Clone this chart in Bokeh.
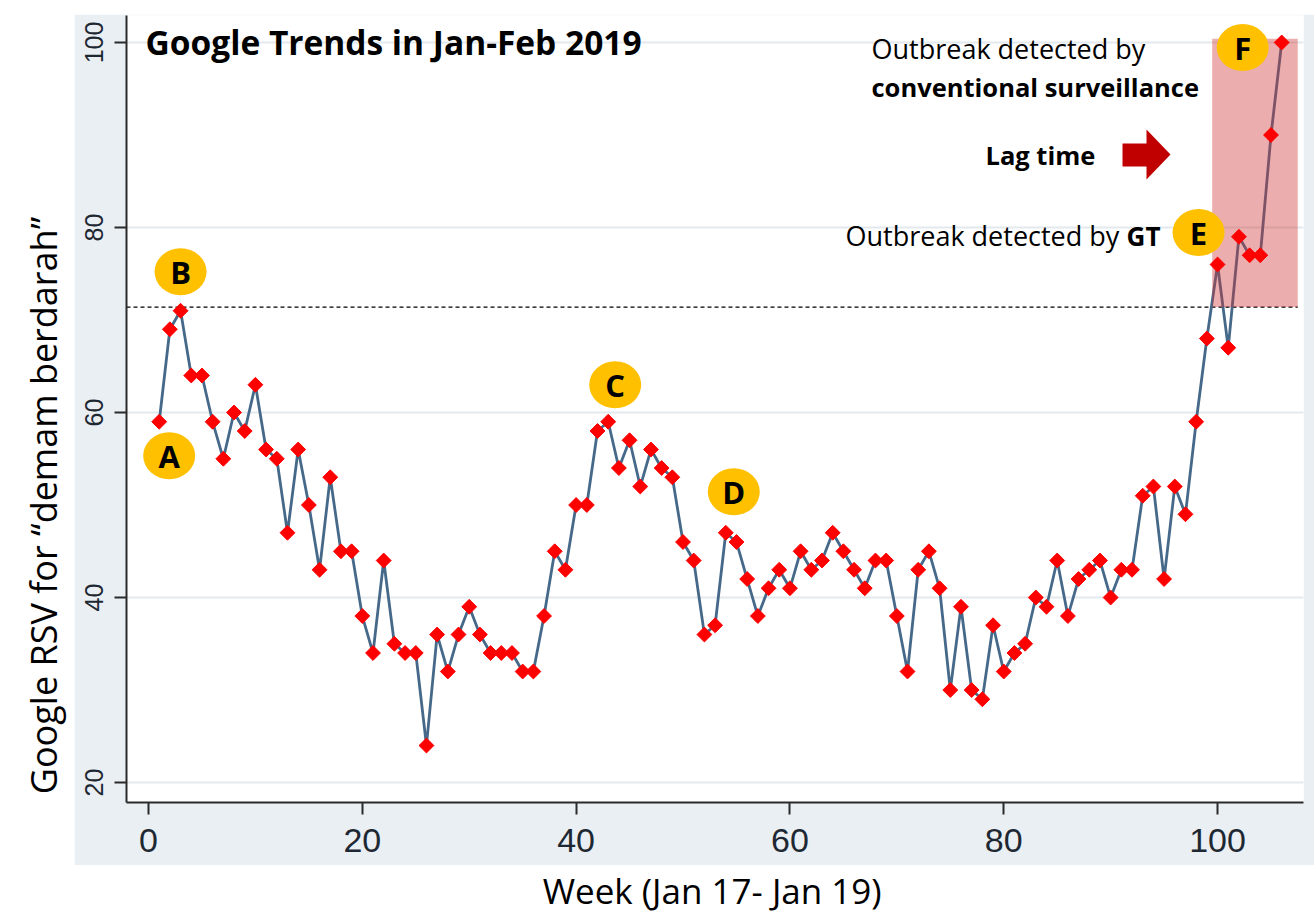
import numpy as np
from bokeh.plotting import figure
from bokeh.layouts import row, column
from bokeh.models import Range1d, FixedTicker
from bokeh.core.properties import value
from bokeh.embed import file_html
from bokeh.resources import INLINE

# ---------------- data ----------------
weeks = list(range(1, 107))
rsv = [59, 69, 71, 64, 64, 59, 55, 60, 58, 63,
       56, 55, 47, 56, 50, 43, 53, 45, 45, 38,
       34, 44, 35, 34, 34, 24, 36, 32, 36, 39,
       36, 34, 34, 34, 32, 32, 38, 45, 43, 50,
       50, 58, 59, 54, 57, 52, 56, 54, 53, 46,
       44, 36, 37, 47, 46, 42, 38, 41, 43, 41,
       45, 43, 44, 47, 45, 43, 41, 44, 44, 38,
       32, 43, 45, 41, 30, 39, 30, 29, 37, 32,
       34, 35, 40, 39, 44, 38, 42, 43, 44, 40,
       43, 43, 51, 52, 42, 52, 49, 59, 68, 76,
       67, 79, 77, 77, 90, 100]
x_ticks = [0, 20, 40, 60, 80, 100]
y_ticks = [20, 40, 60, 80, 100]
threshold = 71.4
outbreak_start = 99.5
outbreak_end = 107.5
outbreak_top = 100.4
letters = ["A", "B", "C", "D", "E", "F"]
letter_weeks = [1, 3, 43, 54, 100, 106]

TITLE = "Google Trends in Jan-Feb 2019"
Y_TITLE = "Google RSV for \u201cdemam berdarah\u201d"
X_TITLE = "Week (Jan 17- Jan 19)"

# ---------------- geometry (page pixels) ----------------
PANEL = "#e9eff2"
PAGE_W, PAGE_H = 1314, 914
LEFT_W = 74            # white strip holding the y title
TOP_H = 14             # white strip above the panel
FIG_W = PAGE_W - LEFT_W
BL, BR, BT, BB = 52, 11, 1, 63
FRAME_W, FRAME_H = 1177, 787
FIG_H = BT + FRAME_H + BB
BOT_H = PAGE_H - TOP_H - FIG_H
X0, X1 = -2.058, 108.04
Y0, Y1 = 17.84, 102.92
PXW = FRAME_W / (X1 - X0)
PXH = FRAME_H / (Y1 - Y0)
REF_L, REF_T = LEFT_W + BL, TOP_H + BT  # frame origin in page pixels


def xd(px):
    return X0 + (px - REF_L) / PXW


def yd(py):
    return Y1 - (py - REF_T) / PXH


p = figure(width=FIG_W, height=FIG_H, x_range=Range1d(X0, X1), y_range=Range1d(Y0, Y1),
           output_backend="svg", toolbar_location=None,
           min_border_left=BL, min_border_right=BR, min_border_top=BT, min_border_bottom=BB)
p.border_fill_color = PANEL
p.background_fill_color = "white"
p.outline_line_color = None
p.xgrid.visible = False
p.ygrid.ticker = FixedTicker(ticks=y_ticks)
p.ygrid.grid_line_color = "#e3e9ed"
p.ygrid.grid_line_width = 2
p.xaxis.ticker = FixedTicker(ticks=x_ticks)
p.yaxis.ticker = FixedTicker(ticks=y_ticks)
for ax in (p.xaxis[0], p.yaxis[0]):
    ax.axis_line_color = "#2b2b2b"
    ax.axis_line_width = 2
    ax.major_tick_line_color = "#2b2b2b"
    ax.major_tick_line_width = 2
    ax.major_tick_out = 12
    ax.major_tick_in = 0
    ax.minor_tick_out = 0
    ax.minor_tick_in = 0
    ax.major_label_text_font = "Liberation Sans"
    ax.major_label_text_color = "#1e2833"
p.xaxis.major_label_text_font_size = "34px"
p.xaxis.major_label_standoff = 14
p.yaxis.major_label_text_font_size = "25px"
p.yaxis.major_label_orientation = "vertical"
p.yaxis.major_label_standoff = 11

# threshold line
p.segment(x0=[X0], y0=[threshold], x1=[outbreak_end], y1=[threshold],
          line_color="black", line_width=1.2, line_dash="4 3")

# series line
p.line(weeks, rsv, line_color="#46698a", line_width=2.8)

# outbreak highlight
p.quad(left=[outbreak_start], right=[outbreak_end], bottom=[threshold], top=[outbreak_top],
       fill_color="#cc3333", fill_alpha=0.4, line_color=None)

# markers
p.scatter(weeks, rsv, marker="square", angle=np.pi / 4, size=10.5,
          fill_color="#ff0000", line_color="#ff0000")

# letter badges anchored to data points (pixel offsets)
letter_dx = [10, 0, 7, 8, -19, -39]
letter_dy = [34, -39, -37, -41, -32, 5]
lx, ly = [], []
for wk, dx, dy in zip(letter_weeks, letter_dx, letter_dy):
    v = rsv[weeks.index(wk)]
    lx.append(wk + dx / PXW)
    ly.append(v - dy / PXH)
p.ellipse(x=lx, y=ly, width=52, height=47, width_units="screen", height_units="screen",
          fill_color="#ffc000", line_color=None)
p.text(x=lx, y=ly, text=letters, text_align="center", text_baseline="middle",
       text_font=value("Open Sans"), text_font_style="bold", text_font_size="31px",
       text_color="black")

# title
p.text(x=[xd(145)], y=[yd(41)], text=[TITLE], text_align="left", text_baseline="middle",
       text_font=value("Open Sans"), text_font_style="bold", text_font_size="33.5px",
       text_color="black")

# annotation texts
p.text(x=[xd(871)], y=[yd(48)], text=["Outbreak detected by"], text_align="left",
       text_baseline="middle", text_font=value("Open Sans"), text_font_size="27px", text_color="black")
p.text(x=[xd(871)], y=[yd(86)], text=["conventional surveillance"], text_align="left",
       text_baseline="middle", text_font=value("Open Sans"), text_font_style="bold",
       text_font_size="25.5px", text_color="black")
p.text(x=[xd(985)], y=[yd(154)], text=["Lag time"], text_align="left",
       text_baseline="middle", text_font=value("Open Sans"), text_font_style="bold",
       text_font_size="25.5px", text_color="black")
p.text(x=[xd(845)], y=[yd(235)], text=["Outbreak detected by"], text_align="left",
       text_baseline="middle", text_font=value("Open Sans"), text_font_size="27px", text_color="black")
p.text(x=[xd(1160)], y=[yd(235)], text=["GT"], text_align="right",
       text_baseline="middle", text_font=value("Open Sans"), text_font_style="bold",
       text_font_size="26px", text_color="black")

# lag-time arrow (block arrow)
ax_px = [1122, 1146, 1146, 1170, 1146, 1146, 1122]
ay_px = [143, 143, 129, 154, 179, 166, 166]
p.patch([xd(v) for v in ax_px], [yd(v) for v in ay_px], fill_color="#c00000", line_color=None)


# ---------------- outer white strips with the axis titles ----------------
def blank(w, h):
    f = figure(width=w, height=h, x_range=Range1d(0, w), y_range=Range1d(0, h),
               x_axis_location=None, y_axis_location=None, toolbar_location=None,
               output_backend="svg", min_border=0)
    f.outline_line_color = None
    f.grid.visible = False
    f.border_fill_color = "white"
    f.background_fill_color = "white"
    return f


ytf = blank(LEFT_W, PAGE_H)
ytf.text(x=[42.5], y=[PAGE_H - 505], text=[Y_TITLE], angle=np.pi / 2, text_align="center",
         text_baseline="middle", text_font=value("Open Sans"), text_font_size="36px",
         text_color="black")

topf = blank(FIG_W, TOP_H)

xtf = blank(FIG_W, BOT_H)
xtf.text(x=[691 - LEFT_W], y=[BOT_H / 2], text=[X_TITLE], text_align="center",
         text_baseline="middle", text_font=value("Open Sans"), text_font_size="35px",
         text_color="black")

layout = row(ytf, column(topf, p, xtf))

open("out.html", "w").write(file_html(layout, INLINE))
